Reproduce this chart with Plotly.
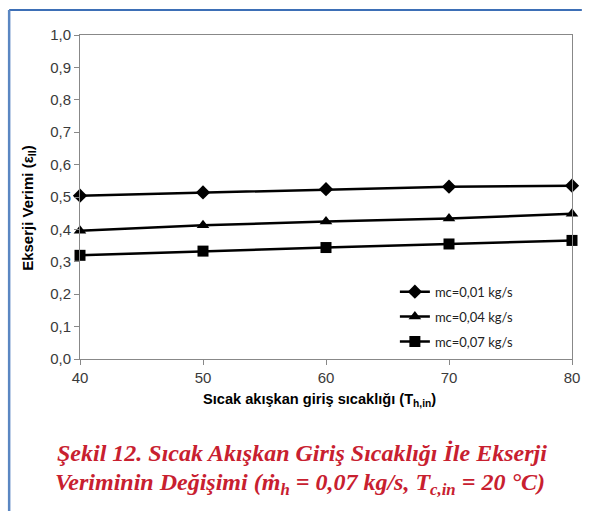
import plotly.graph_objects as go

temps = [40, 50, 60, 70, 80]
series_names = ["mc=0,01 kg/s", "mc=0,04 kg/s", "mc=0,07 kg/s"]
eff_001 = [0.504, 0.514, 0.524, 0.532, 0.535]
eff_004 = [0.396, 0.413, 0.424, 0.434, 0.448]
eff_007 = [0.320, 0.333, 0.344, 0.355, 0.366]
symbols = ["diamond", "triangle-up", "square"]
msizes = [11, 11, 11]

fig = go.Figure()
for i, (name, vals, sym, ms) in enumerate(zip(series_names, [eff_001, eff_004, eff_007], symbols, msizes)):
    fig.add_trace(go.Scatter(
        x=temps, y=vals, name=name, mode="lines+markers",
        line=dict(color="black", width=2.5),
        marker=dict(symbol=sym, size=ms, color="black"),
        legendgroup=f"g{i}",
        cliponaxis=False,
    ))

axis_common = dict(
    showgrid=False, zeroline=False, showline=True, linecolor="#888888", linewidth=1,
    ticks="outside", ticklen=5, tickcolor="#888888", mirror=True,
    tickfont=dict(family="Liberation Sans, Arial", size=15, color="#3a3a3a"),
)
fig.update_xaxes(range=[40, 80], dtick=10, **axis_common)
fig.update_yaxes(range=[0, 1.0], dtick=0.1, tickformat=".1f", **axis_common)

blue = "#3d6fb6"
caption_font = dict(family="Liberation Serif, Times New Roman", size=24, color="#c8202f")
fig.update_layout(
    width=590, height=511,
    margin=dict(l=80, r=10, t=35, b=152),
    plot_bgcolor="white", paper_bgcolor="white",
    separators=",.",
    showlegend=True,
    legend=dict(
        x=0.64, y=0.254, xanchor="left", yanchor="top",
        bgcolor="rgba(0,0,0,0)",
        font=dict(family="Lato, Open Sans", size=13, color="#222222"),
        traceorder="grouped", tracegroupgap=5,
    ),
    shapes=[
        dict(type="line", xref="paper", yref="paper", x0=-0.144, x1=1.02, y0=1.077, y1=1.077,
             line=dict(color=blue, width=2)),
        dict(type="line", xref="paper", yref="paper", x0=-0.144, x1=-0.144, y0=1.077, y1=-0.47,
             line=dict(color="#5a86c2", width=2.5)),
    ],
    annotations=[
        dict(text="<b>Ekserji Verimi (ε<sub>II</sub>)</b>", xref="paper", yref="paper",
             x=-0.106, y=0.466, textangle=-90, showarrow=False,
             font=dict(family="Liberation Sans, Arial", size=15, color="black"),
             xanchor="center", yanchor="middle"),
        dict(text="<b>Sıcak akışkan giriş sıcaklığı (T<sub>h,in</sub>)</b>", xref="paper", yref="paper",
             x=0.486, y=-0.128, showarrow=False,
             font=dict(family="Liberation Sans, Arial", size=14.6, color="black"),
             xanchor="center", yanchor="middle"),
        dict(text="<b><i>Şekil 12. Sıcak Akışkan Giriş Sıcaklığı İle Ekserji</i></b>",
             xref="paper", yref="paper", x=0.452, y=-0.2915, showarrow=False,
             font=caption_font, xanchor="center", yanchor="middle"),
        dict(text="<b><i>Veriminin Değişimi (ṁ<sub>h</sub> = 0,07 kg/s, T<sub>c,in</sub> = 20 °C)</i></b>",
             xref="paper", yref="paper", x=0.448, y=-0.386, showarrow=False,
             font=caption_font, xanchor="center", yanchor="middle"),
    ],
)

fig.write_html("out.html")
